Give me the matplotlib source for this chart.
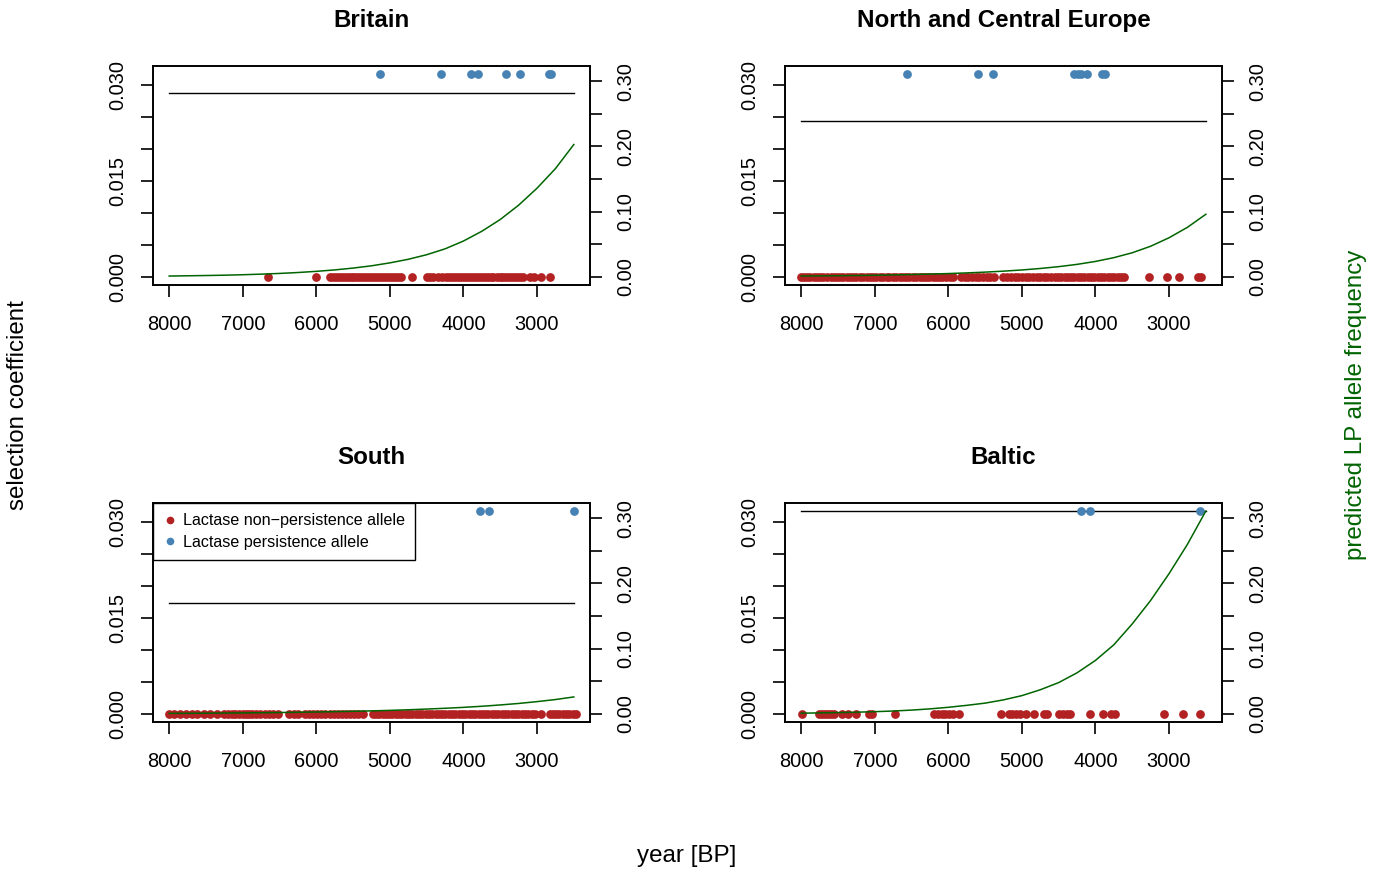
import matplotlib
matplotlib.use('Agg')
import matplotlib.pyplot as plt
from matplotlib.lines import Line2D

plt.rcParams['font.family'] = ['Liberation Sans', 'DejaVu Sans']

# ---------------- data ----------------
panel_titles = ['Britain', 'North and Central Europe', 'South', 'Baltic']

x_ticks = [8000, 7000, 6000, 5000, 4000, 3000]
left_ticks = [0.0, 0.005, 0.010, 0.015, 0.020, 0.025, 0.030]
left_labels = ['0.000', '', '', '0.015', '', '', '0.030']
right_ticks = [0.0, 0.05, 0.10, 0.15, 0.20, 0.25, 0.30]
right_labels = ['0.00', '', '0.10', '', '0.20', '', '0.30']

# selection coefficient per region (left axis), drawn over the time span
sel_coef = [0.02875, 0.0243, 0.0173, 0.0317]
sel_years = [8000, 2500]

# y level at which samples are plotted
lnp_level = 0.0
lp_level = 0.0317

# sample dates (years BP) - lactase non-persistence allele
britain_lnp = [6660, 6005,
               5815, 5775, 5735, 5695, 5655, 5615, 5575, 5535, 5495, 5455, 5415, 5375,
               5335, 5295, 5255, 5215, 5175, 5135, 5095, 5055, 5015, 4975, 4935, 4895, 4855,
               4697,
               4500, 4460, 4410, 4340, 4290, 4240, 4190, 4150, 4110, 4070, 4030, 3990,
               3950, 3910, 3870, 3830, 3790, 3750, 3710, 3670, 3630, 3600, 3550, 3510,
               3470, 3430, 3390, 3350, 3310, 3270, 3230, 3190, 3100, 3040, 2940, 2830]
north_lnp = [8000, 7960, 7920, 7880, 7830, 7790, 7740, 7700, 7650, 7600, 7560, 7510,
             7470, 7430, 7380, 7340, 7290, 7250, 7200, 7160, 7110, 7070, 7020, 6980,
             6930, 6890, 6840, 6800, 6750, 6710, 6660, 6620, 6570, 6530, 6480, 6440,
             6390, 6350, 6300, 6260, 6210, 6170, 6120, 6080, 6030, 5980, 5935,
             5830, 5780, 5730, 5680, 5630, 5580, 5530, 5480, 5430, 5380,
             5250, 5200, 5150, 5100, 5050, 5000, 4950, 4900, 4850, 4800, 4750, 4700, 4660,
             4600, 4555, 4510, 4465, 4420, 4375, 4330, 4285, 4240, 4195, 4150, 4105,
             4060, 4015, 3970, 3925, 3880, 3835, 3790, 3745, 3700, 3655, 3610,
             3277, 3027, 2870, 2610, 2570]
south_lnp = [8000, 7930, 7850, 7770, 7690,
             7620, 7530, 7450,
             7350,
             7250, 7200, 7150, 7100, 7050, 7000, 6950, 6910,
             6870, 6820, 6760, 6700, 6640, 6590,
             6516,
             6370, 6300, 6245,
             6150, 6100, 6050, 5990, 5940, 5880, 5820, 5760, 5700, 5650, 5600, 5545,
             5490, 5430, 5360,
             5235, 5190, 5145, 5100, 5055, 5010, 4965, 4920, 4875, 4830, 4785, 4740,
             4695, 4650, 4605, 4560, 4515, 4470, 4425, 4380, 4335, 4290, 4245, 4200,
             4155, 4110, 4065, 4020, 3975, 3930, 3885, 3840, 3795, 3750, 3705, 3660,
             3615, 3570, 3525, 3480, 3435, 3390, 3345, 3300, 3255, 3210, 3165, 3120,
             3075, 3030, 2940, 2830, 2785, 2740, 2695, 2650, 2605, 2560, 2515, 2470]
baltic_lnp = [7985, 7760, 7720, 7680, 7640, 7600, 7560, 7450, 7365, 7250, 7080, 7040,
              6722, 6190, 6140, 6090, 6040, 5990, 5935, 5855, 5283, 5180, 5130, 5080,
              5030, 4940, 4840, 4704, 4658, 4490, 4440, 4390, 4340, 4079, 3897, 3785,
              3730, 3075, 2812, 2576]

# sample dates (years BP) - lactase persistence allele
britain_lp = [5132, 4308, 3901, 3801, 3426, 3231, 2840, 2815]
north_lp = [6565, 5600, 5392, 4290, 4240, 4190, 4114, 3911, 3866]
south_lp = [3778, 3652, 2498]
baltic_lp = [4192, 4079, 2576]

# predicted LP allele frequency (right axis)
curve_years = [8000, 7750, 7500, 7250, 7000, 6750, 6500, 6250, 6000, 5750, 5500, 5250,
               5000, 4750, 4500, 4250, 4000, 3750, 3500, 3250, 3000, 2750, 2500]
britain_freq = [0.0013, 0.0017, 0.0021, 0.0026, 0.0033, 0.0042, 0.0053, 0.0067, 0.0085,
                0.0107, 0.0135, 0.0170, 0.0215, 0.0270, 0.0340, 0.0430, 0.0550, 0.0700,
                0.0880, 0.1100, 0.1360, 0.1660, 0.2030]
north_freq = [0.0013, 0.0015, 0.0018, 0.0021, 0.0025, 0.0030, 0.0036, 0.0043, 0.0051,
              0.0061, 0.0073, 0.0088, 0.0106, 0.0129, 0.0157, 0.0192, 0.0237, 0.0295,
              0.0370, 0.0470, 0.0600, 0.0760, 0.0960]
south_freq = [0.0008, 0.0009, 0.0011, 0.0013, 0.0015, 0.0018, 0.0021, 0.0025, 0.0029,
              0.0034, 0.0040, 0.0046, 0.0054, 0.0063, 0.0074, 0.0086, 0.0100, 0.0117,
              0.0137, 0.0160, 0.0188, 0.0220, 0.0260]
baltic_freq = [0.0011, 0.0015, 0.0020, 0.0026, 0.0034, 0.0044, 0.0058, 0.0077, 0.0101,
               0.0131, 0.0165, 0.0215, 0.0280, 0.0370, 0.0480, 0.0630, 0.0820, 0.1060,
               0.1380, 0.1740, 0.2150, 0.2600, 0.3110]

lnp_all = [britain_lnp, north_lnp, south_lnp, baltic_lnp]
lp_all = [britain_lp, north_lp, south_lp, baltic_lp]
freq_all = [britain_freq, north_freq, south_freq, baltic_freq]

legend_labels = ['Lactase non\u2212persistence allele', 'Lactase persistence allele']

# ---------------- style ----------------
RED = '#B22222'
BLUE = '#4682B4'
GREEN = '#006400'
W, H = 1385, 874
boxes = [(153, 66, 590, 285), (785, 66, 1222, 285),
         (153, 503, 590, 722), (785, 503, 1222, 722)]
TICK_FS = 14.4
TICK_LEN = 8.6
LW_BOX = 1.2
MS = 6.3

fig = plt.figure(figsize=(W / 100, H / 100), dpi=100)

for i in range(4):
    l, t, r, b = boxes[i]
    ax = fig.add_axes([l / W, 1 - b / H, (r - l) / W, (b - t) / H])
    ax.set_xlim(8220, 2280)
    ax.set_ylim(-0.00127, 0.03297)

    ax.plot(sel_years, [sel_coef[i]] * len(sel_years), color='black', lw=1.0, zorder=2)
    ax.plot(lnp_all[i], [lnp_level] * len(lnp_all[i]), 'o', ls='none', color=RED,
            ms=MS, mew=0, zorder=3)
    ax.plot(lp_all[i], [lp_level] * len(lp_all[i]), 'o', ls='none', color=BLUE,
            ms=MS, mew=0, zorder=3)

    ax.set_xticks(x_ticks)
    ax.set_xticklabels([str(v) for v in x_ticks])
    ax.set_yticks(left_ticks)
    ax.set_yticklabels(left_labels, rotation=90, va='center')
    ax.tick_params(axis='x', length=TICK_LEN, width=LW_BOX, labelsize=TICK_FS, pad=13)
    ax.tick_params(axis='y', length=TICK_LEN, width=LW_BOX, labelsize=TICK_FS, pad=10)
    for s in ax.spines.values():
        s.set_linewidth(LW_BOX)
    ax.set_title(panel_titles[i], fontsize=17.4, fontweight='bold', pad=28)

    ax2 = ax.twinx()
    ax2.set_ylim(-0.01244, 0.3234)
    ax2.plot(curve_years, freq_all[i], color=GREEN, lw=1.1)
    ax2.set_yticks(right_ticks)
    ax2.set_yticklabels(right_labels, rotation=90, va='center')
    ax2.tick_params(axis='y', length=TICK_LEN, width=LW_BOX, labelsize=TICK_FS, pad=10)
    for s in ax2.spines.values():
        s.set_linewidth(LW_BOX)

    if i == 2:
        handles = [Line2D([], [], marker='o', ls='none', color=RED, ms=MS - 0.8, mew=0),
                   Line2D([], [], marker='o', ls='none', color=BLUE, ms=MS - 0.8, mew=0)]
        leg = ax2.legend(handles, legend_labels, loc='upper left', bbox_to_anchor=(0, 1),
                         borderaxespad=0, fancybox=False, edgecolor='black',
                         framealpha=1, fontsize=11.6, handlelength=0.8,
                         handletextpad=0.4, borderpad=0.65, labelspacing=0.4)
        leg.get_frame().set_linewidth(1.0)

fig.text(18 / W, 1 - 405 / H, 'selection coefficient', rotation=90,
         ha='center', va='center', fontsize=17.4)
fig.text(1356 / W, 1 - 405 / H, 'predicted LP allele frequency', rotation=90,
         ha='center', va='center', fontsize=17.4, color=GREEN)
fig.text(687 / W, 1 - 856 / H, 'year [BP]', ha='center', va='center', fontsize=17.4)

fig.savefig('out.png', dpi=100)
